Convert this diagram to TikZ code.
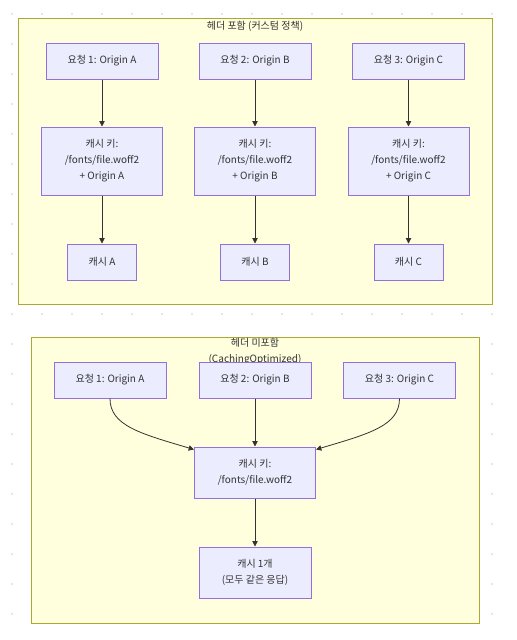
\documentclass[tikz,border=0pt]{standalone}
\usepackage{fontspec}
\setmainfont{Noto Sans CJK KR}
\usepackage{tikz}
\usetikzlibrary{arrows.meta,calc}
\definecolor{cgrp}{HTML}{FFFFDE}
\definecolor{cgrpline}{HTML}{AAAA33}
\definecolor{cnode}{HTML}{ECECFF}
\definecolor{cnodeline}{HTML}{9370DB}
\definecolor{cink}{HTML}{333333}
\definecolor{cdot}{HTML}{E4E4E4}
\tikzset{
  box/.style={draw=cnodeline, fill=cnode, line width=0.75pt, inner sep=0pt, align=center, text=cink, font=\fontsize{7.5pt}{12pt}\selectfont},
  reqn/.style={box, minimum width=84pt, minimum height=27pt},
  keyn/.style={box, minimum width=90.75pt, minimum height=51pt},
  cachen/.style={box, minimum width=51.75pt, minimum height=27pt},
  grp/.style={draw=cgrpline, fill=cgrp, line width=0.75pt},
  ttl/.style={text=cink, align=center, inner sep=0pt, font=\fontsize{7.5pt}{12pt}\selectfont},
  pre/.style={-{Triangle[length=4pt, width=4pt]}, draw=cink, line width=0.6pt},
}
\begin{document}
\begin{tikzpicture}[x=0.75pt, y=-0.75pt]
\useasboundingbox (0,0) rectangle (517,640);
% dotted canvas
\foreach \i in {0,...,16} \foreach \j in {0,...,20} \fill[cdot] (12+30*\i,14+30*\j) circle[radius=1.1pt];

% with header
\draw[grp] (18,18) rectangle (492,304);
\node[ttl] (ttop) at (255,26) {헤더 포함 (커스텀 정책)};
\node[reqn] (ta) at (102,61)   {요청 1: Origin A};
\node[reqn] (tb) at (255,61)   {요청 2: Origin B};
\node[reqn] (tc) at (408.5,61) {요청 3: Origin C};
\node[keyn] (ka) at (102,161)   {캐시 키:\\/fonts/file.woff2\\+ Origin A};
\node[keyn] (kb) at (255,161)   {캐시 키:\\/fonts/file.woff2\\+ Origin B};
\node[keyn] (kc) at (408.5,161) {캐시 키:\\/fonts/file.woff2\\+ Origin C};
\node[cachen] (ca) at (102,262)   {캐시 A};
\node[cachen] (cb) at (255,262)   {캐시 B};
\node[cachen] (cc) at (408.5,262) {캐시 C};
\foreach \a/\b in {ta/ka,tb/kb,tc/kc,ka/ca,kb/cb,kc/cc} \draw[pre] (\a) -- (\b);

% without header
\draw[grp] (31,337) rectangle (479,623);
\node[ttl] (tbot) at (255,352) {헤더 미포함\\(CachingOptimized)};
\node[reqn] (ba) at (110,380)   {요청 1: Origin A};
\node[reqn] (bb) at (255,380)   {요청 2: Origin B};
\node[reqn] (bc) at (399.5,380) {요청 3: Origin C};
\node[keyn, minimum height=38.25pt] (key) at (255,472.5) {캐시 키:\\/fonts/file.woff2};
\node[box, minimum width=84pt, minimum height=38.25pt] (one) at (255,572.5) {캐시 1개\\(모두 같은 응답)};
\draw[pre] (ba.south) .. controls ($(ba.south)+(0,27)$) and ($(key.north west)+(-54,-13)$) .. ($(key.north west)+(0,3)$);
\draw[pre] (bc.south) .. controls ($(bc.south)+(0,27)$) and ($(key.north east)+(54,-13)$) .. ($(key.north east)+(0,3)$);
\foreach \a/\b in {bb/key,key/one} \draw[pre] (\a) -- (\b);
\end{tikzpicture}
\end{document}
